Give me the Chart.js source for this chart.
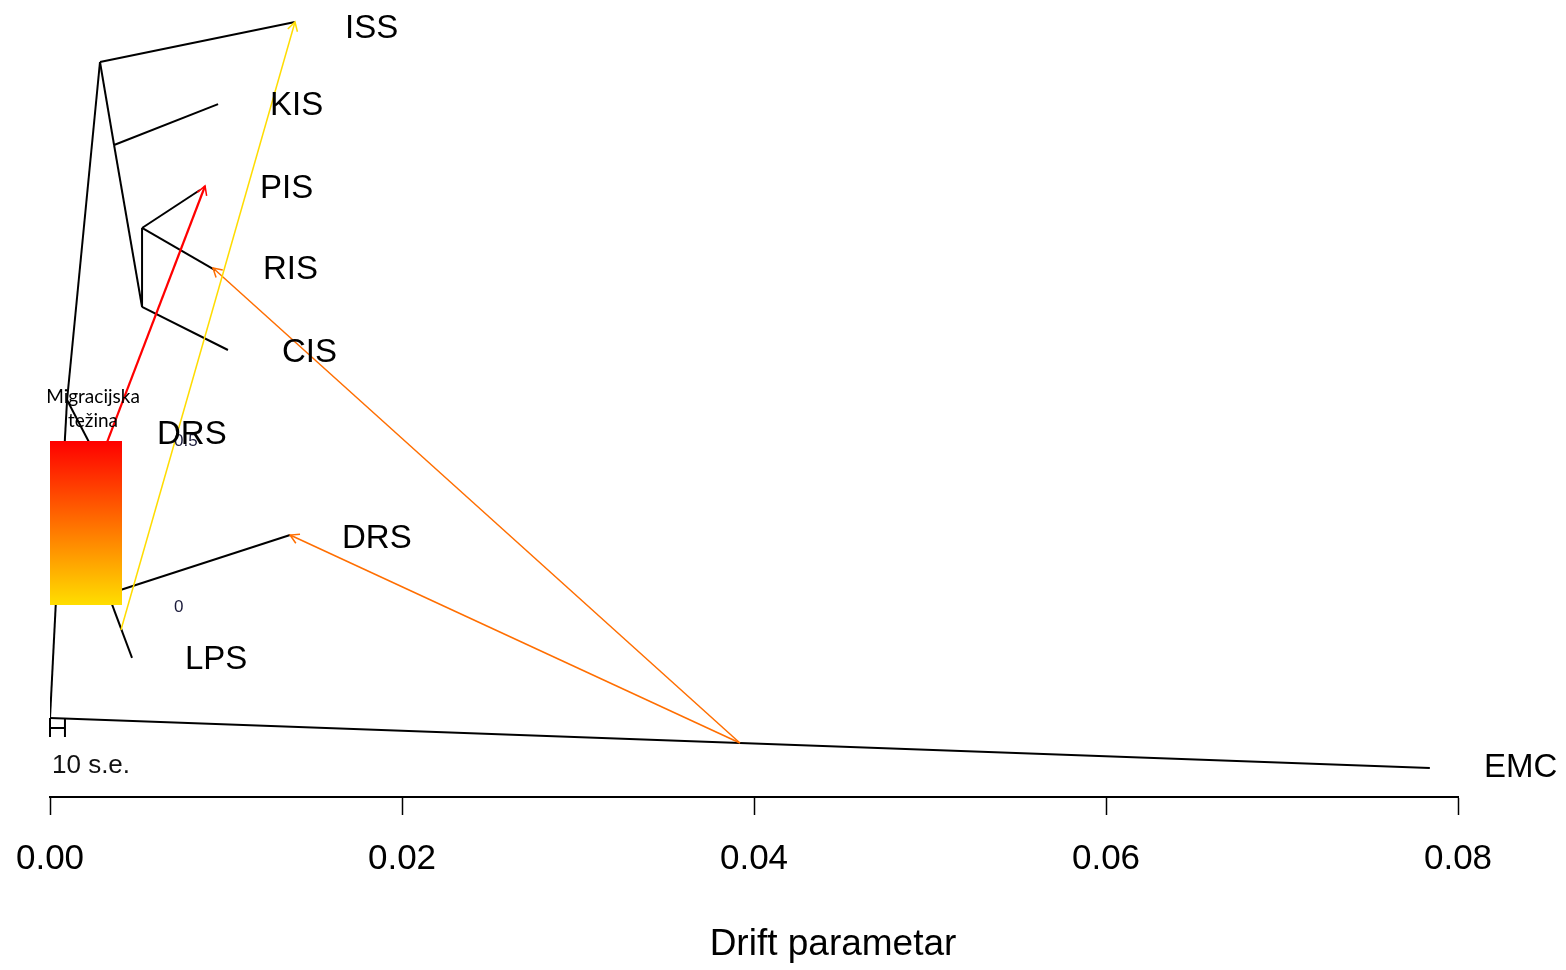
<!DOCTYPE html>
<html><head><meta charset="utf-8">
<script src="https://cdn.jsdelivr.net/npm/chart.js@4"></script>
<style>html,body{margin:0;padding:0;background:#fff;overflow:hidden}#wrap{width:1566px;height:970px;position:relative}</style>
</head><body><div id="wrap"><canvas id="c"></canvas></div>
<script>
// ---- tree nodes (x = drift parameter, y = vertical tree position 0..1)
const nodeNames = ['root','EMC','N0','N1','N6','DRS','LPS','DPS','N2','ISS','N3','KIS','N4','N5','PIS','RIS','CIS'];
const nodeX = [0, 0.0784, 0.00034, 0.00097, 0.0033, 0.01364, 0.00466, 0.00239, 0.00284, 0.01392, 0.00364, 0.00955, 0.00523, 0.00523, 0.00852, 0.00938, 0.01011];
const nodeY = [0.100, 0.0367, 0.2494, 0.5025, 0.257, 0.3316, 0.176, 0.4418, 0.9304, 0.981, 0.8253, 0.877, 0.6203, 0.7203, 0.7684, 0.667, 0.5658];
const edgeFrom = ['root','root','N0','N0','N6','N6','N1','N1','N2','N2','N3','N3','N4','N4','N5','N5'];
const edgeTo   = ['EMC','N0','N1','N6','DRS','LPS','DPS','N2','ISS','N3','KIS','N4','CIS','N5','PIS','RIS'];

// ---- leaf labels
const leafLabels = ['ISS','KIS','PIS','RIS','CIS','DRS','DRS','LPS','EMC'];
const leafLabelX = [0.01676, 0.0125, 0.01193, 0.0121, 0.01318, 0.00608, 0.01659, 0.00767, 0.08148];
const leafLabelY = [0.9722, 0.8747, 0.7696, 0.6671, 0.5620, 0.4582, 0.3266, 0.1734, 0.0367];

// ---- migration edges
const migFromX = [0.00307, 0.00403, 0.0392, 0.0392];
const migFromY = [0.439, 0.2114, 0.0684, 0.0684];
const migToX   = [0.00881, 0.01392, 0.01364, 0.00926];
const migToY   = [0.7734, 0.981, 0.3316, 0.6696];
const migWeight = [0.5, 0.0, 0.25, 0.25];

// ---- axis / legend
const xTicks = [0, 0.02, 0.04, 0.06, 0.08];
const xTitle = 'Drift parametar';
const legendTitle = ['Migracijska', 'težina'];
const legendTicks = ['0.5', '0'];
const scaleBarText = '10 s.e.';
const scaleBarWidth = 0.00085;

function migColor(w){
  const t = Math.max(0, Math.min(1, w / 0.5));
  const g = Math.round(220 * (1 - t));
  return 'rgb(255,' + g + ',0)';
}
const idx = n => nodeNames.indexOf(n);

const datasets = [];
for (let i = 0; i < migFromX.length; i++) {
  datasets.push({
    type: 'line',
    data: [{x: migFromX[i], y: migFromY[i]}, {x: migToX[i], y: migToY[i]}],
    borderColor: migColor(migWeight[i]),
    borderWidth: migWeight[i] >= 0.5 ? 2.2 : 1.5,
    pointRadius: 0, fill: false, tension: 0, order: 0
  });
}
for (let i = 0; i < edgeFrom.length; i++) {
  const a = idx(edgeFrom[i]), b = idx(edgeTo[i]);
  datasets.push({
    type: 'line',
    data: [{x: nodeX[a], y: nodeY[a]}, {x: nodeX[b], y: nodeY[b]}],
    borderColor: '#000', borderWidth: 2,
    pointRadius: 0, fill: false, tension: 0, order: 1
  });
}

const overlay = {
  id: 'overlay',
  afterDatasetsDraw(chart) {
    const ctx = chart.ctx, xs = chart.scales.x, ys = chart.scales.y;
    ctx.save();
    // arrowheads
    for (let i = 0; i < migFromX.length; i++) {
      const x0 = xs.getPixelForValue(migFromX[i]), y0 = ys.getPixelForValue(migFromY[i]);
      const x1 = xs.getPixelForValue(migToX[i]), y1 = ys.getPixelForValue(migToY[i]);
      const ang = Math.atan2(y1 - y0, x1 - x0), L = 10, sp = Math.PI / 6;
      ctx.strokeStyle = migColor(migWeight[i]);
      ctx.lineWidth = 1.5;
      ctx.beginPath();
      ctx.moveTo(x1 - L * Math.cos(ang - sp), y1 - L * Math.sin(ang - sp));
      ctx.lineTo(x1, y1);
      ctx.lineTo(x1 - L * Math.cos(ang + sp), y1 - L * Math.sin(ang + sp));
      ctx.stroke();
    }
    // scale bar
    const sx0 = xs.getPixelForValue(0), sx1 = xs.getPixelForValue(scaleBarWidth);
    const sy = ys.getPixelForValue(nodeY[0]);
    ctx.strokeStyle = '#000'; ctx.lineWidth = 2;
    ctx.beginPath();
    ctx.moveTo(sx0, sy); ctx.lineTo(sx0, sy + 19);
    ctx.moveTo(sx1, sy); ctx.lineTo(sx1, sy + 19);
    ctx.moveTo(sx0, sy + 10); ctx.lineTo(sx1, sy + 10);
    ctx.stroke();
    ctx.fillStyle = '#111';
    ctx.font = '26px "Liberation Sans", Arial, sans-serif';
    ctx.textAlign = 'left'; ctx.textBaseline = 'middle';
    ctx.fillText(scaleBarText, sx0 + 2, sy + 48);
    // legend gradient
    const lx = 50, ly = 441, lw = 72, lh = 164;
    const grad = ctx.createLinearGradient(0, ly, 0, ly + lh);
    grad.addColorStop(0, 'rgb(255,0,0)');
    grad.addColorStop(1, 'rgb(255,222,0)');
    ctx.fillStyle = grad;
    ctx.fillRect(lx, ly, lw, lh);
    ctx.fillStyle = '#000';
    ctx.font = '19px Lato, "Open Sans", sans-serif';
    ctx.textAlign = 'center';
    ctx.fillText(legendTitle[0], 93, 397);
    ctx.fillText(legendTitle[1], 93, 421);
    ctx.fillStyle = '#1a1a3a';
    ctx.font = '17px "Liberation Sans", Arial, sans-serif';
    ctx.textAlign = 'left';
    ctx.fillText(legendTicks[0], 174, 441);
    ctx.fillText(legendTicks[1], 174, 607);
    // leaf labels
    ctx.fillStyle = '#000';
    ctx.font = '33px "Liberation Sans", Arial, sans-serif';
    ctx.textBaseline = 'middle';
    for (let i = 0; i < leafLabels.length; i++) {
      ctx.fillText(leafLabels[i], xs.getPixelForValue(leafLabelX[i]), ys.getPixelForValue(leafLabelY[i]));
    }
    // axis title
    ctx.font = '37px "Liberation Sans", Arial, sans-serif';
    ctx.textAlign = 'center';
    ctx.fillText(xTitle, 833, 945);
    ctx.restore();
  }
};

new Chart(document.getElementById('c'), {
  type: 'scatter',
  data: { datasets },
  options: {
    responsive: true, maintainAspectRatio: false, animation: false,
    layout: { padding: { left: 50, right: 108, top: 7, bottom: 0 } },
    plugins: { legend: { display: false }, tooltip: { enabled: false } },
    scales: {
      x: {
        type: 'linear', min: 0, max: 0.08,
        afterBuildTicks: s => { s.ticks = xTicks.map(v => ({value: v})); },
        afterFit: s => { s.height = 173; s.paddingLeft = 0; s.paddingRight = 0; },
        ticks: { callback: v => v.toFixed(2), color: '#000', padding: 23,
                 font: { family: '"Liberation Sans", Arial, sans-serif', size: 35 }, maxRotation: 0, autoSkip: false },
        grid: { display: true, drawOnChartArea: false, drawTicks: true, tickLength: 18, tickColor: '#000', tickWidth: 1.5 },
        border: { display: true, color: '#000', width: 2 },
        title: { display: false }
      },
      y: { type: 'linear', min: 0, max: 1, display: false,
           afterFit: s => { s.width = 0; s.paddingTop = 0; s.paddingBottom = 0; } }
    }
  },
  plugins: [overlay]
});
</script></body></html>
